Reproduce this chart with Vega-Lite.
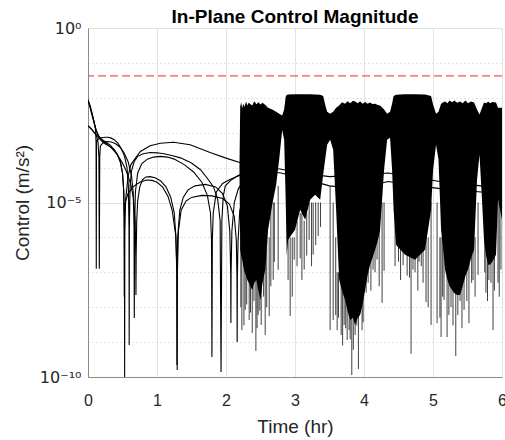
{
  "$schema": "https://vega.github.io/schema/vega-lite/v6.json",
  "width": 414,
  "height": 349,
  "autosize": {"type": "none"},
  "padding": {"left": 88, "top": 28, "right": 3, "bottom": 63},
  "background": "white",
  "config": {"view": {"stroke": null}, "font": "Liberation Sans"},
  "title": {"text": "In-Plane Control Magnitude", "fontSize": 19, "fontWeight": "bold", "font": "Liberation Sans", "color": "#000000", "anchor": "middle", "frame": "group", "offset": -7},
  "datasets": {
    "curves": [
      {"s": "s1", "t": 0, "v": 8.9e-3}, {"s": "s1", "t": 0.03, "v": 6.0e-3}, {"s": "s1", "t": 0.06, "v": 3.5e-3}, {"s": "s1", "t": 0.09, "v": 1.9e-3}, {"s": "s1", "t": 0.12, "v": 1.15e-3}, {"s": "s1", "t": 0.15, "v": 7.8e-4}, {"s": "s1", "t": 0.18, "v": 6.2e-4}, {"s": "s1", "t": 0.24, "v": 4.9e-4}, {"s": "s1", "t": 0.30, "v": 4.2e-4}, {"s": "s1", "t": 0.36, "v": 3.5e-4}, {"s": "s1", "t": 0.42, "v": 2.5e-4}, {"s": "s1", "t": 0.47, "v": 1.5e-4}, {"s": "s1", "t": 0.50, "v": 7e-5}, {"s": "s1", "t": 0.52, "v": 2e-5}, {"s": "s1", "t": 0.528, "v": 1.5e-6}, {"s": "s1", "t": 0.531, "v": 1.0e-10}, {"s": "s1", "t": 0.534, "v": 1.5e-6}, {"s": "s1", "t": 0.545, "v": 1.2e-5}, {"s": "s1", "t": 0.58, "v": 5.5e-5}, {"s": "s1", "t": 0.62, "v": 1.2e-4}, {"s": "s1", "t": 0.69, "v": 1.9e-4}, {"s": "s1", "t": 0.76, "v": 2.9e-4}, {"s": "s1", "t": 0.9, "v": 4.25e-4}, {"s": "s1", "t": 1.05, "v": 5.0e-4}, {"s": "s1", "t": 1.24, "v": 5.3e-4}, {"s": "s1", "t": 1.48, "v": 4.5e-4}, {"s": "s1", "t": 1.77, "v": 2.7e-4}, {"s": "s1", "t": 1.99, "v": 1.9e-4}, {"s": "s1", "t": 2.21, "v": 1.38e-4}, {"s": "s1", "t": 2.5, "v": 1.1e-4}, {"s": "s1", "t": 2.8, "v": 9e-5}, {"s": "s1", "t": 3.1, "v": 7e-5}, {"s": "s1", "t": 3.5, "v": 5.5e-5}, {"s": "s1", "t": 3.9, "v": 6e-5}, {"s": "s1", "t": 4.35, "v": 7e-5}, {"s": "s1", "t": 4.8, "v": 5e-5}, {"s": "s1", "t": 5.1, "v": 4e-5}, {"s": "s1", "t": 5.7, "v": 3e-5}, {"s": "s1", "t": 6, "v": 2.5e-5},
      {"s": "s2", "t": 0, "v": 8.5e-3}, {"s": "s2", "t": 0.03, "v": 5.6e-3}, {"s": "s2", "t": 0.06, "v": 3.4e-3}, {"s": "s2", "t": 0.09, "v": 2.0e-3}, {"s": "s2", "t": 0.11, "v": 1.2e-3}, {"s": "s2", "t": 0.117, "v": 5e-4}, {"s": "s2", "t": 0.12, "v": 1.26e-7}, {"s": "s2", "t": 0.123, "v": 5e-4}, {"s": "s2", "t": 0.13, "v": 6.0e-4}, {"s": "s2", "t": 0.16, "v": 6.8e-4}, {"s": "s2", "t": 0.2, "v": 7.2e-4}, {"s": "s2", "t": 0.25, "v": 7.4e-4}, {"s": "s2", "t": 0.29, "v": 7.4e-4}, {"s": "s2", "t": 0.33, "v": 7.1e-4}, {"s": "s2", "t": 0.38, "v": 6.3e-4}, {"s": "s2", "t": 0.43, "v": 5.1e-4}, {"s": "s2", "t": 0.48, "v": 3.6e-4}, {"s": "s2", "t": 0.53, "v": 2.1e-4}, {"s": "s2", "t": 0.565, "v": 1.0e-4}, {"s": "s2", "t": 0.585, "v": 3e-5}, {"s": "s2", "t": 0.594, "v": 2e-6}, {"s": "s2", "t": 0.597, "v": 8.3e-10}, {"s": "s2", "t": 0.6, "v": 2e-6}, {"s": "s2", "t": 0.61, "v": 3e-5}, {"s": "s2", "t": 0.63, "v": 8e-5}, {"s": "s2", "t": 0.67, "v": 1.5e-4}, {"s": "s2", "t": 0.72, "v": 2.1e-4}, {"s": "s2", "t": 0.8, "v": 2.5e-4}, {"s": "s2", "t": 0.9, "v": 2.7e-4}, {"s": "s2", "t": 1.0, "v": 2.65e-4}, {"s": "s2", "t": 1.1, "v": 2.5e-4}, {"s": "s2", "t": 1.2, "v": 2.25e-4}, {"s": "s2", "t": 1.34, "v": 1.9e-4}, {"s": "s2", "t": 1.5, "v": 1.35e-4}, {"s": "s2", "t": 1.63, "v": 8.7e-5}, {"s": "s2", "t": 1.72, "v": 5.2e-5}, {"s": "s2", "t": 1.82, "v": 2.8e-5}, {"s": "s2", "t": 1.88, "v": 1.2e-5}, {"s": "s2", "t": 1.915, "v": 3e-6}, {"s": "s2", "t": 1.928, "v": 1.4e-10}, {"s": "s2", "t": 1.94, "v": 3e-6}, {"s": "s2", "t": 1.96, "v": 1.5e-5}, {"s": "s2", "t": 1.99, "v": 3e-5}, {"s": "s2", "t": 2.08, "v": 4.5e-5}, {"s": "s2", "t": 2.18, "v": 6e-5}, {"s": "s2", "t": 2.3, "v": 7e-5}, {"s": "s2", "t": 2.5, "v": 8e-5}, {"s": "s2", "t": 2.8, "v": 7e-5}, {"s": "s2", "t": 3.1, "v": 5e-5}, {"s": "s2", "t": 3.5, "v": 3e-5}, {"s": "s2", "t": 3.9, "v": 2.5e-5}, {"s": "s2", "t": 4.35, "v": 4e-5}, {"s": "s2", "t": 4.8, "v": 3e-5}, {"s": "s2", "t": 5.1, "v": 2.5e-5}, {"s": "s2", "t": 5.7, "v": 2e-5}, {"s": "s2", "t": 6, "v": 1.8e-5},
      {"s": "s3", "t": 0, "v": 1.6e-3}, {"s": "s3", "t": 0.04, "v": 1.35e-3}, {"s": "s3", "t": 0.08, "v": 1.1e-3}, {"s": "s3", "t": 0.12, "v": 8.5e-4}, {"s": "s3", "t": 0.145, "v": 5.5e-4}, {"s": "s3", "t": 0.158, "v": 2e-4}, {"s": "s3", "t": 0.164, "v": 1.26e-7}, {"s": "s3", "t": 0.17, "v": 2e-4}, {"s": "s3", "t": 0.18, "v": 4.2e-4}, {"s": "s3", "t": 0.22, "v": 5.2e-4}, {"s": "s3", "t": 0.28, "v": 5.6e-4}, {"s": "s3", "t": 0.34, "v": 5.4e-4}, {"s": "s3", "t": 0.40, "v": 4.8e-4}, {"s": "s3", "t": 0.46, "v": 3.9e-4}, {"s": "s3", "t": 0.52, "v": 2.7e-4}, {"s": "s3", "t": 0.58, "v": 1.5e-4}, {"s": "s3", "t": 0.63, "v": 6e-5}, {"s": "s3", "t": 0.655, "v": 2e-5}, {"s": "s3", "t": 0.667, "v": 2e-6}, {"s": "s3", "t": 0.671, "v": 4.9e-9}, {"s": "s3", "t": 0.675, "v": 2e-6}, {"s": "s3", "t": 0.687, "v": 2e-5}, {"s": "s3", "t": 0.72, "v": 7e-5}, {"s": "s3", "t": 0.78, "v": 1.3e-4}, {"s": "s3", "t": 0.86, "v": 1.75e-4}, {"s": "s3", "t": 0.95, "v": 2.0e-4}, {"s": "s3", "t": 1.05, "v": 2.1e-4}, {"s": "s3", "t": 1.15, "v": 2.0e-4}, {"s": "s3", "t": 1.25, "v": 1.75e-4}, {"s": "s3", "t": 1.4, "v": 1.2e-4}, {"s": "s3", "t": 1.53, "v": 7.5e-5}, {"s": "s3", "t": 1.65, "v": 3.8e-5}, {"s": "s3", "t": 1.73, "v": 1.6e-5}, {"s": "s3", "t": 1.775, "v": 5e-6}, {"s": "s3", "t": 1.79, "v": 8e-7}, {"s": "s3", "t": 1.796, "v": 3.75e-10}, {"s": "s3", "t": 1.802, "v": 8e-7}, {"s": "s3", "t": 1.815, "v": 5e-6}, {"s": "s3", "t": 1.86, "v": 2e-5}, {"s": "s3", "t": 1.95, "v": 3.5e-5}, {"s": "s3", "t": 2.05, "v": 4.5e-5}, {"s": "s3", "t": 2.15, "v": 5.5e-5}, {"s": "s3", "t": 2.25, "v": 6.5e-5},
      {"s": "s4", "t": 0, "v": 1.55e-3}, {"s": "s4", "t": 0.05, "v": 1.25e-3}, {"s": "s4", "t": 0.1, "v": 9.5e-4}, {"s": "s4", "t": 0.15, "v": 7.5e-4}, {"s": "s4", "t": 0.2, "v": 6.2e-4}, {"s": "s4", "t": 0.26, "v": 5.0e-4}, {"s": "s4", "t": 0.32, "v": 4.0e-4}, {"s": "s4", "t": 0.38, "v": 3.0e-4}, {"s": "s4", "t": 0.44, "v": 2.1e-4}, {"s": "s4", "t": 0.5, "v": 1.35e-4}, {"s": "s4", "t": 0.56, "v": 7.5e-5}, {"s": "s4", "t": 0.62, "v": 3.3e-5}, {"s": "s4", "t": 0.66, "v": 1.3e-5}, {"s": "s4", "t": 0.684, "v": 3e-6}, {"s": "s4", "t": 0.692, "v": 3e-7}, {"s": "s4", "t": 0.695, "v": 2.25e-8}, {"s": "s4", "t": 0.698, "v": 3e-7}, {"s": "s4", "t": 0.706, "v": 3e-6}, {"s": "s4", "t": 0.72, "v": 1.1e-5}, {"s": "s4", "t": 0.75, "v": 2.8e-5}, {"s": "s4", "t": 0.79, "v": 4.5e-5}, {"s": "s4", "t": 0.84, "v": 5.4e-5}, {"s": "s4", "t": 0.9, "v": 5.5e-5}, {"s": "s4", "t": 0.97, "v": 5.1e-5}, {"s": "s4", "t": 1.05, "v": 4.2e-5}, {"s": "s4", "t": 1.13, "v": 2.8e-5}, {"s": "s4", "t": 1.2, "v": 1.4e-5}, {"s": "s4", "t": 1.25, "v": 5e-6}, {"s": "s4", "t": 1.275, "v": 1e-6}, {"s": "s4", "t": 1.286, "v": 1e-7}, {"s": "s4", "t": 1.289, "v": 2.2e-10}, {"s": "s4", "t": 1.292, "v": 1e-7}, {"s": "s4", "t": 1.3, "v": 1e-6}, {"s": "s4", "t": 1.33, "v": 6e-6}, {"s": "s4", "t": 1.38, "v": 1.4e-5}, {"s": "s4", "t": 1.45, "v": 2.3e-5}, {"s": "s4", "t": 1.55, "v": 3.0e-5}, {"s": "s4", "t": 1.7, "v": 3.3e-5}, {"s": "s4", "t": 1.85, "v": 2.8e-5}, {"s": "s4", "t": 1.95, "v": 1.8e-5}, {"s": "s4", "t": 2.02, "v": 8e-6}, {"s": "s4", "t": 2.055, "v": 1.5e-6}, {"s": "s4", "t": 2.068, "v": 1e-7}, {"s": "s4", "t": 2.071, "v": 3.5e-9}, {"s": "s4", "t": 2.074, "v": 1e-7}, {"s": "s4", "t": 2.085, "v": 1.5e-6}, {"s": "s4", "t": 2.12, "v": 1e-5}, {"s": "s4", "t": 2.18, "v": 2.5e-5}, {"s": "s4", "t": 2.25, "v": 4e-5},
      {"s": "s5", "t": 0, "v": 8.3e-3}, {"s": "s5", "t": 0.03, "v": 5.3e-3}, {"s": "s5", "t": 0.06, "v": 3.1e-3}, {"s": "s5", "t": 0.09, "v": 1.85e-3}, {"s": "s5", "t": 0.12, "v": 1.15e-3}, {"s": "s5", "t": 0.16, "v": 7.8e-4}, {"s": "s5", "t": 0.2, "v": 6.4e-4}, {"s": "s5", "t": 0.26, "v": 5.4e-4}, {"s": "s5", "t": 0.32, "v": 4.4e-4}, {"s": "s5", "t": 0.38, "v": 3.3e-4}, {"s": "s5", "t": 0.43, "v": 2.3e-4}, {"s": "s5", "t": 0.47, "v": 1.4e-4}, {"s": "s5", "t": 0.5, "v": 7e-5}, {"s": "s5", "t": 0.515, "v": 2.5e-5}, {"s": "s5", "t": 0.523, "v": 4e-6}, {"s": "s5", "t": 0.526, "v": 2e-8}, {"s": "s5", "t": 0.529, "v": 4e-6}, {"s": "s5", "t": 0.54, "v": 1e-5}, {"s": "s5", "t": 0.58, "v": 1.8e-5}, {"s": "s5", "t": 0.65, "v": 2.8e-5}, {"s": "s5", "t": 0.75, "v": 3.8e-5}, {"s": "s5", "t": 0.85, "v": 4.4e-5}, {"s": "s5", "t": 0.93, "v": 4.3e-5}, {"s": "s5", "t": 1.0, "v": 3.8e-5}, {"s": "s5", "t": 1.08, "v": 2.8e-5}, {"s": "s5", "t": 1.16, "v": 1.5e-5}, {"s": "s5", "t": 1.22, "v": 6e-6}, {"s": "s5", "t": 1.27, "v": 1.2e-6}, {"s": "s5", "t": 1.29, "v": 1e-7}, {"s": "s5", "t": 1.293, "v": 1.6e-10}, {"s": "s5", "t": 1.296, "v": 1e-7}, {"s": "s5", "t": 1.31, "v": 1.5e-6}, {"s": "s5", "t": 1.35, "v": 6e-6}, {"s": "s5", "t": 1.42, "v": 1.1e-5}, {"s": "s5", "t": 1.5, "v": 1.4e-5}, {"s": "s5", "t": 1.65, "v": 1.6e-5}, {"s": "s5", "t": 1.8, "v": 1.55e-5}, {"s": "s5", "t": 1.95, "v": 1.3e-5}, {"s": "s5", "t": 2.05, "v": 9e-6}, {"s": "s5", "t": 2.12, "v": 4e-6}, {"s": "s5", "t": 2.15, "v": 8e-7}, {"s": "s5", "t": 2.159, "v": 8e-8}, {"s": "s5", "t": 2.162, "v": 1e-9}, {"s": "s5", "t": 2.165, "v": 8e-8}, {"s": "s5", "t": 2.175, "v": 8e-7}, {"s": "s5", "t": 2.2, "v": 6e-6}, {"s": "s5", "t": 2.25, "v": 1.5e-5}
    ],
    "dense": [
      {"t": 2.195, "top": 1.0e-4, "bot": 1.0e-4}, {"t": 2.206, "top": 5.6e-3, "bot": 4.4e-7}, {"t": 2.22, "top": 7.5e-3, "bot": 3e-7}, {"t": 2.235, "top": 5.0e-3, "bot": 2.3e-7}, {"t": 2.25, "top": 6.8e-3, "bot": 1.5e-7}, {"t": 2.27, "top": 5.5e-3, "bot": 1.0e-7}, {"t": 2.29, "top": 7.8e-3, "bot": 8e-8}, {"t": 2.31, "top": 6.0e-3, "bot": 6e-8}, {"t": 2.33, "top": 7.3e-3, "bot": 5e-8}, {"t": 2.35, "top": 6.6e-3, "bot": 4e-8}, {"t": 2.38, "top": 6.0e-3, "bot": 3.1e-8}, {"t": 2.41, "top": 8.0e-3, "bot": 5e-8}, {"t": 2.44, "top": 6.5e-3, "bot": 6e-8}, {"t": 2.47, "top": 7.5e-3, "bot": 3e-8}, {"t": 2.5, "top": 6.4e-3, "bot": 1.6e-8}, {"t": 2.53, "top": 7.2e-3, "bot": 5e-8}, {"t": 2.57, "top": 6.2e-3, "bot": 1.2e-7}, {"t": 2.61, "top": 5.2e-3, "bot": 1.65e-6}, {"t": 2.67, "top": 4.6e-3, "bot": 8.6e-6}, {"t": 2.727, "top": 4.0e-3, "bot": 3.2e-5}, {"t": 2.771, "top": 3.5e-3, "bot": 1.7e-4}, {"t": 2.814, "top": 3.1e-3, "bot": 1.2e-3}, {"t": 2.843, "top": 4.6e-3, "bot": 6.3e-4}, {"t": 2.865, "top": 1.08e-2, "bot": 1.2e-5}, {"t": 2.88, "top": 1.2e-2, "bot": 3e-7}, {"t": 2.9, "top": 1.24e-2, "bot": 8.5e-7}, {"t": 3.0, "top": 1.26e-2, "bot": 1.65e-6}, {"t": 3.075, "top": 1.26e-2, "bot": 6.2e-6}, {"t": 3.147, "top": 1.26e-2, "bot": 3.2e-6}, {"t": 3.22, "top": 1.26e-2, "bot": 1.2e-5}, {"t": 3.292, "top": 1.25e-2, "bot": 1.67e-5}, {"t": 3.365, "top": 1.22e-2, "bot": 1.2e-5}, {"t": 3.408, "top": 1.12e-2, "bot": 6.25e-5}, {"t": 3.437, "top": 6.4e-3, "bot": 1.7e-4}, {"t": 3.466, "top": 4.0e-3, "bot": 4.5e-4}, {"t": 3.509, "top": 3.5e-3, "bot": 6.3e-4}, {"t": 3.553, "top": 4.0e-3, "bot": 3.3e-4}, {"t": 3.596, "top": 5.2e-3, "bot": 6.2e-6}, {"t": 3.64, "top": 6.0e-3, "bot": 6.1e-8}, {"t": 3.68, "top": 7.5e-3, "bot": 3e-8}, {"t": 3.726, "top": 6.8e-3, "bot": 1.6e-8}, {"t": 3.76, "top": 8.0e-3, "bot": 8e-9}, {"t": 3.8, "top": 7.0e-3, "bot": 4.3e-9}, {"t": 3.84, "top": 8.2e-3, "bot": 5e-9}, {"t": 3.871, "top": 7.8e-3, "bot": 3.1e-9}, {"t": 3.91, "top": 7.0e-3, "bot": 5e-9}, {"t": 3.943, "top": 8.0e-3, "bot": 6.0e-9}, {"t": 3.98, "top": 6.8e-3, "bot": 1.2e-8}, {"t": 4.016, "top": 7.6e-3, "bot": 3.1e-8}, {"t": 4.05, "top": 6.8e-3, "bot": 8e-8}, {"t": 4.088, "top": 7.3e-3, "bot": 1.64e-7}, {"t": 4.12, "top": 6.6e-3, "bot": 2.5e-7}, {"t": 4.161, "top": 6.8e-3, "bot": 4.4e-7}, {"t": 4.2, "top": 6.2e-3, "bot": 8e-7}, {"t": 4.233, "top": 6.0e-3, "bot": 1.65e-6}, {"t": 4.291, "top": 4.6e-3, "bot": 8.7e-5}, {"t": 4.335, "top": 3.5e-3, "bot": 6.3e-4}, {"t": 4.378, "top": 4.0e-3, "bot": 7.2e-4}, {"t": 4.407, "top": 6.8e-3, "bot": 8.7e-5}, {"t": 4.429, "top": 1.12e-2, "bot": 6.2e-6}, {"t": 4.465, "top": 1.22e-2, "bot": 6.1e-7}, {"t": 4.595, "top": 1.26e-2, "bot": 3.17e-7}, {"t": 4.74, "top": 1.26e-2, "bot": 2.28e-7}, {"t": 4.885, "top": 1.25e-2, "bot": 4.4e-7}, {"t": 4.972, "top": 1.12e-2, "bot": 6.2e-6}, {"t": 5.001, "top": 6.4e-3, "bot": 8.7e-5}, {"t": 5.044, "top": 3.5e-3, "bot": 4.5e-4}, {"t": 5.08, "top": 4.0e-3, "bot": 1.7e-4}, {"t": 5.117, "top": 6.8e-3, "bot": 1.65e-6}, {"t": 5.15, "top": 7.5e-3, "bot": 4e-7}, {"t": 5.175, "top": 7.8e-3, "bot": 1.18e-7}, {"t": 5.21, "top": 7.0e-3, "bot": 6e-8}, {"t": 5.24, "top": 8.3e-3, "bot": 4e-8}, {"t": 5.276, "top": 7.4e-3, "bot": 3.1e-8}, {"t": 5.31, "top": 8.3e-3, "bot": 2.5e-8}, {"t": 5.35, "top": 7.2e-3, "bot": 2.25e-8}, {"t": 5.392, "top": 7.8e-3, "bot": 2.25e-8}, {"t": 5.43, "top": 7.0e-3, "bot": 4e-8}, {"t": 5.47, "top": 8.3e-3, "bot": 8e-8}, {"t": 5.508, "top": 7.0e-3, "bot": 1.18e-7}, {"t": 5.55, "top": 7.8e-3, "bot": 2.5e-7}, {"t": 5.595, "top": 7.3e-3, "bot": 4.4e-7}, {"t": 5.638, "top": 4.6e-3, "bot": 4.5e-5}, {"t": 5.674, "top": 3.3e-3, "bot": 2.34e-4}, {"t": 5.71, "top": 5.2e-3, "bot": 1.2e-5}, {"t": 5.739, "top": 7.3e-3, "bot": 8.5e-7}, {"t": 5.77, "top": 7.0e-3, "bot": 3e-7}, {"t": 5.8, "top": 7.8e-3, "bot": 1.64e-7}, {"t": 5.826, "top": 7.0e-3, "bot": 1.64e-7}, {"t": 5.86, "top": 7.6e-3, "bot": 2e-7}, {"t": 5.913, "top": 7.3e-3, "bot": 3.17e-7}, {"t": 5.942, "top": 5.2e-3, "bot": 1.2e-5}, {"t": 6.0, "top": 5.2e-3, "bot": 3.2e-6}
    ],
    "spikes": [
      {"t": 2.215, "lo": 1e-8, "hi": 1e-6}, {"t": 2.23, "lo": 2.2e-9, "hi": 1e-6}, {"t": 2.26, "lo": 3e-9, "hi": 1e-6}, {"t": 2.278, "lo": 8.4e-9, "hi": 1e-6}, {"t": 2.3, "lo": 1.2e-8, "hi": 1e-6}, {"t": 2.336, "lo": 4.3e-9, "hi": 1e-6}, {"t": 2.355, "lo": 7e-9, "hi": 1e-6}, {"t": 2.38, "lo": 1.83e-9, "hi": 1e-6}, {"t": 2.405, "lo": 1.5e-8, "hi": 1e-6}, {"t": 2.433, "lo": 5.6e-10, "hi": 1e-6}, {"t": 2.45, "lo": 2.5e-9, "hi": 1e-6}, {"t": 2.466, "lo": 6e-9, "hi": 1e-6}, {"t": 2.49, "lo": 8e-9, "hi": 1e-6}, {"t": 2.51, "lo": 3.1e-9, "hi": 1e-6}, {"t": 2.545, "lo": 2e-8, "hi": 1e-6}, {"t": 2.568, "lo": 1.6e-9, "hi": 1e-6}, {"t": 2.59, "lo": 1e-8, "hi": 1e-6}, {"t": 2.626, "lo": 5.5e-9, "hi": 1e-6}, {"t": 2.65, "lo": 4e-8, "hi": 1e-5}, {"t": 2.684, "lo": 6.1e-8, "hi": 1e-5}, {"t": 2.7, "lo": 2e-7, "hi": 1e-5}, {"t": 2.756, "lo": 1.18e-7, "hi": 3e-5},
      {"t": 2.9, "lo": 6e-8, "hi": 1e-6}, {"t": 2.93, "lo": 5.6e-9, "hi": 1e-6}, {"t": 2.96, "lo": 2e-8, "hi": 1e-6}, {"t": 2.988, "lo": 2.3e-7, "hi": 1e-6}, {"t": 3.03, "lo": 1.5e-7, "hi": 3e-6}, {"t": 3.075, "lo": 2.5e-7, "hi": 5e-6}, {"t": 3.1, "lo": 6e-8, "hi": 5e-6}, {"t": 3.133, "lo": 1.2e-7, "hi": 3e-6}, {"t": 3.17, "lo": 3e-7, "hi": 5e-6}, {"t": 3.205, "lo": 8.5e-7, "hi": 1e-5}, {"t": 3.24, "lo": 1.5e-7, "hi": 1e-5}, {"t": 3.263, "lo": 3.2e-7, "hi": 1e-5}, {"t": 3.3, "lo": 6e-7, "hi": 1e-5}, {"t": 3.336, "lo": 1.1e-6, "hi": 1e-5}, {"t": 3.37, "lo": 2e-6, "hi": 1e-5},
      {"t": 3.509, "lo": 2.2e-9, "hi": 3e-5}, {"t": 3.553, "lo": 4.3e-9, "hi": 1e-5}, {"t": 3.59, "lo": 6e-9, "hi": 1e-6}, {"t": 3.611, "lo": 2.2e-9, "hi": 1e-7}, {"t": 3.63, "lo": 5e-9, "hi": 1e-7}, {"t": 3.669, "lo": 1.6e-9, "hi": 1e-7}, {"t": 3.69, "lo": 8e-10, "hi": 1e-7}, {"t": 3.712, "lo": 3.1e-9, "hi": 1e-7}, {"t": 3.735, "lo": 2.5e-9, "hi": 1e-7}, {"t": 3.756, "lo": 1.15e-9, "hi": 1e-7}, {"t": 3.785, "lo": 2.2e-9, "hi": 1e-7}, {"t": 3.8, "lo": 1.2e-9, "hi": 1e-7}, {"t": 3.823, "lo": 1.14e-10, "hi": 1e-7}, {"t": 3.845, "lo": 6e-10, "hi": 1e-7}, {"t": 3.871, "lo": 1.6e-9, "hi": 1e-7}, {"t": 3.895, "lo": 3e-9, "hi": 1e-7}, {"t": 3.919, "lo": 1.7e-10, "hi": 1e-7}, {"t": 3.95, "lo": 7e-9, "hi": 1e-7}, {"t": 3.972, "lo": 2.2e-9, "hi": 1e-7}, {"t": 3.987, "lo": 3.7e-9, "hi": 1e-7}, {"t": 4.031, "lo": 2.6e-8, "hi": 1e-6}, {"t": 4.06, "lo": 5e-8, "hi": 1e-6}, {"t": 4.1, "lo": 3e-8, "hi": 1e-6}, {"t": 4.131, "lo": 1.2e-7, "hi": 1e-6}, {"t": 4.16, "lo": 1e-7, "hi": 1e-6}, {"t": 4.189, "lo": 2.3e-7, "hi": 1e-6}, {"t": 4.22, "lo": 4e-8, "hi": 1e-5}, {"t": 4.262, "lo": 1.33e-8, "hi": 1e-5}, {"t": 4.291, "lo": 1.1e-7, "hi": 1e-5},
      {"t": 4.45, "lo": 1.5e-7, "hi": 1e-5}, {"t": 4.5, "lo": 2e-7, "hi": 1e-6}, {"t": 4.53, "lo": 6e-8, "hi": 1e-6}, {"t": 4.567, "lo": 1.6e-7, "hi": 1e-6}, {"t": 4.625, "lo": 8e-8, "hi": 1e-6}, {"t": 4.66, "lo": 7e-8, "hi": 1e-6}, {"t": 4.682, "lo": 4.6e-10, "hi": 1e-6}, {"t": 4.71, "lo": 1.2e-7, "hi": 1e-6}, {"t": 4.74, "lo": 1e-7, "hi": 1e-6}, {"t": 4.78, "lo": 3e-8, "hi": 1e-6}, {"t": 4.798, "lo": 2e-7, "hi": 1e-6}, {"t": 4.83, "lo": 1.5e-7, "hi": 1e-6}, {"t": 4.856, "lo": 5e-8, "hi": 1e-6}, {"t": 4.899, "lo": 1.4e-8, "hi": 1e-6}, {"t": 4.93, "lo": 1e-8, "hi": 1e-6}, {"t": 4.972, "lo": 3.1e-9, "hi": 1e-5},
      {"t": 5.059, "lo": 3.5e-9, "hi": 1e-5}, {"t": 5.1, "lo": 5e-9, "hi": 1e-6}, {"t": 5.117, "lo": 1.4e-9, "hi": 1e-6}, {"t": 5.14, "lo": 2e-8, "hi": 1e-6}, {"t": 5.16, "lo": 1.6e-8, "hi": 1e-6}, {"t": 5.204, "lo": 1.4e-9, "hi": 1e-7}, {"t": 5.23, "lo": 6e-9, "hi": 1e-7}, {"t": 5.261, "lo": 1.0e-8, "hi": 1e-7}, {"t": 5.29, "lo": 3e-9, "hi": 1e-7}, {"t": 5.33, "lo": 4.0e-10, "hi": 1e-7}, {"t": 5.36, "lo": 6e-9, "hi": 1e-7}, {"t": 5.392, "lo": 1.5e-8, "hi": 1e-7}, {"t": 5.42, "lo": 2.5e-9, "hi": 1e-7}, {"t": 5.45, "lo": 8.4e-9, "hi": 1e-7}, {"t": 5.49, "lo": 1.5e-8, "hi": 1e-6}, {"t": 5.521, "lo": 3.5e-9, "hi": 1e-6}, {"t": 5.56, "lo": 5e-8, "hi": 1e-6}, {"t": 5.58, "lo": 6e-8, "hi": 1e-6}, {"t": 5.61, "lo": 2e-8, "hi": 1e-6}, {"t": 5.653, "lo": 8.45e-8, "hi": 1e-5},
      {"t": 5.75, "lo": 1e-7, "hi": 1e-6}, {"t": 5.767, "lo": 2.6e-8, "hi": 1e-6}, {"t": 5.79, "lo": 1.5e-8, "hi": 1e-6}, {"t": 5.81, "lo": 6e-8, "hi": 1e-6}, {"t": 5.84, "lo": 5e-8, "hi": 1e-6}, {"t": 5.87, "lo": 2.2e-9, "hi": 1e-6}, {"t": 5.89, "lo": 3e-8, "hi": 1e-6}, {"t": 5.942, "lo": 5e-8, "hi": 1e-5}, {"t": 5.96, "lo": 2e-8, "hi": 1e-5}, {"t": 5.985, "lo": 1.2e-7, "hi": 1e-5}
    ]
  },
  "layer": [
    {
      "data": {"name": "curves"},
      "mark": {"type": "line", "color": "#000000", "strokeWidth": 1.1, "clip": true},
      "encoding": {
        "x": {
          "field": "t", "type": "quantitative",
          "scale": {"domain": [0, 6], "nice": false, "zero": false},
          "axis": {
            "title": "Time (hr)", "values": [0, 1, 2, 3, 4, 5, 6], "format": "d",
            "labelFont": "Liberation Sans", "labelFontSize": 16, "labelColor": "#262626",
            "titleFont": "Liberation Sans", "titleFontSize": 19, "titleFontWeight": "normal", "titleColor": "#262626",
            "ticks": false, "labelPadding": 15, "titlePadding": 9, "labelFlush": false, "labelOverlap": false,
            "domainColor": "#8a8a8a", "gridColor": "#e2e2e2", "gridWidth": 1
          }
        },
        "y": {
          "field": "v", "type": "quantitative",
          "scale": {"type": "log", "domain": [1e-10, 1], "nice": false},
          "axis": {
            "title": "Control (m/s²)",
            "values": [1, 0.1, 0.01, 0.001, 0.0001, 1e-5, 1e-6, 1e-7, 1e-8, 1e-9, 1e-10],
            "labelExpr": "datum.value == 1 ? '10⁰' : (datum.value == 1e-5 ? '10⁻⁵' : (datum.value == 1e-10 ? '10⁻¹⁰' : ''))",
            "labelFont": "DejaVu Sans", "labelFontSize": 16, "labelColor": "#262626",
            "titleFont": "Liberation Sans", "titleFontSize": 19, "titleFontWeight": "normal", "titleColor": "#262626",
            "ticks": false, "labelPadding": 7, "titlePadding": 7, "labelFlush": false, "labelOverlap": false, "labelBound": false,
            "domainColor": "#8a8a8a",
            "gridColor": {"condition": {"test": "datum.value == 1 || datum.value == 1e-5 || datum.value == 1e-10", "value": "#e2e2e2"}, "value": "#c8c8c8"},
            "gridDash": {"condition": {"test": "datum.value == 1 || datum.value == 1e-5 || datum.value == 1e-10", "value": []}, "value": [1, 3]}
          }
        },
        "detail": {"field": "s", "type": "nominal"}
      }
    },
    {
      "data": {"name": "dense"},
      "mark": {"type": "area", "color": "#000000", "clip": true, "opacity": 1},
      "encoding": {
        "x": {"field": "t", "type": "quantitative", "title": "Time (hr)"},
        "y": {"field": "top", "type": "quantitative", "title": "Control (m/s²)"},
        "y2": {"field": "bot"}
      }
    },
    {
      "data": {"name": "spikes"},
      "mark": {"type": "rule", "color": "#000000", "strokeWidth": 1, "opacity": 0.75, "clip": true},
      "encoding": {
        "x": {"field": "t", "type": "quantitative", "title": "Time (hr)"},
        "y": {"field": "lo", "type": "quantitative", "title": "Control (m/s²)"},
        "y2": {"field": "hi"}
      }
    },
    {
      "data": {"values": [{}]},
      "mark": {"type": "rule", "color": "#ff4d4d", "strokeDash": [8, 4], "strokeWidth": 1.4},
      "encoding": {"y": {"datum": 0.0425, "type": "quantitative"}}
    }
  ]
}
